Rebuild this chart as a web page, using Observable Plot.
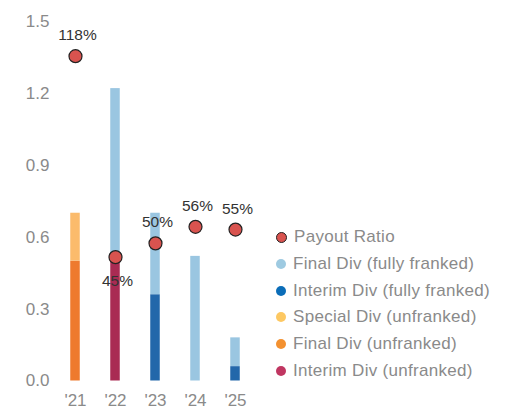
<!DOCTYPE html>
<html>
<head>
<meta charset="utf-8">
<script src="https://cdn.jsdelivr.net/npm/d3@7"></script>
<script src="https://cdn.jsdelivr.net/npm/@observablehq/plot@0.6"></script>
<style>
  body { margin: 0; background: #fff; }
  #wrap { position: relative; width: 513px; height: 410px; font-family: "Liberation Sans", Arial, sans-serif; }
  #legend { position: absolute; left: 276px; top: 224px; }
  .row { display: flex; align-items: center; height: 26.7px; font-size: 17px; color: #8a8a8a; letter-spacing: 0.3px; white-space: nowrap; }
  .sw { width: 10px; height: 10px; border-radius: 50%; margin-right: 7px; box-sizing: border-box; }
</style>
</head>
<body>
<div id="wrap"><div id="legend"></div></div>
<script>
const years = ["'21", "'22", "'23", "'24", "'25"];
const interimUnfranked = [0, 0.50, 0, 0, 0];
const interimFullyFranked = [0, 0, 0.36, 0, 0.06];
const finalUnfranked = [0.50, 0, 0, 0, 0];
const finalFullyFranked = [0, 0.72, 0.34, 0.52, 0.12];
const specialUnfranked = [0.20, 0, 0, 0, 0];
const payoutRatio = [1.18, 0.45, 0.50, 0.56, 0.55];
const payoutAxisMax = 1.306; // hidden secondary axis maximum
const yTicks = [0, 0.3, 0.6, 0.9, 1.2, 1.5];

const seriesNames = [
  "Interim Div (unfranked)",
  "Interim Div (fully franked)",
  "Final Div (unfranked)",
  "Final Div (fully franked)",
  "Special Div (unfranked)"
];
const seriesValues = [interimUnfranked, interimFullyFranked, finalUnfranked, finalFullyFranked, specialUnfranked];
const barColors = ["#a92b53", "#2367aa", "#ee7a2e", "#9ac6e1", "#fbbb6c"];
const legendNames = ["Payout Ratio", "Final Div (fully franked)", "Interim Div (fully franked)", "Special Div (unfranked)", "Final Div (unfranked)", "Interim Div (unfranked)"];
const legendColors = ["#d9534f", "#9ecae1", "#0b6db8", "#fdc862", "#f39130", "#c03661"];

const bars = [];
seriesNames.forEach((s, i) => years.forEach((y, j) => bars.push({year: y, series: s, value: seriesValues[i][j]})));
const payout = years.map((y, j) => ({year: y, ratio: payoutRatio[j]}));
const scaled = d => d.ratio * 1.5 / payoutAxisMax;

const chart = Plot.plot({
  width: 513,
  height: 410,
  marginLeft: 54,
  marginRight: 257,
  marginTop: 21,
  marginBottom: 29.5,
  style: {fontFamily: "'Liberation Sans', Arial, sans-serif", fontSize: "17px", background: "transparent"},
  x: {type: "band", domain: years, padding: 0},
  y: {domain: [0, 1.5]},
  color: {domain: seriesNames, range: barColors},
  marks: [
    Plot.barY(bars, {x: "year", y: "value", fill: "series", insetLeft: 15.25, insetRight: 15.25}),
    Plot.axisY({ticks: yTicks, tickFormat: d3.format(".1f"), tickSize: 0, tickPadding: 5, color: "#8a8a8a", label: null, fontSize: 17}),
    Plot.axisX({tickSize: 0, tickPadding: 13, color: "#8a8a8a", label: null, fontSize: 17}),
    Plot.dot(payout, {x: "year", y: scaled, r: 6.5, fill: "#d9534f", stroke: "#222", strokeWidth: 1.2}),
    Plot.text(payout, {filter: d => d.year !== "'22", x: "year", y: scaled, text: d => Math.round(d.ratio * 100) + "%", dy: -21, dx: 2, fontSize: 15.5, fill: "#333"}),
    Plot.text(payout, {filter: d => d.year === "'22", x: "year", y: scaled, text: d => Math.round(d.ratio * 100) + "%", dy: 24, dx: 2, fontSize: 15.5, fill: "#333"})
  ]
});
document.getElementById("wrap").prepend(chart);

const legend = document.getElementById("legend");
legendNames.forEach((n, i) => {
  const row = document.createElement("div");
  row.className = "row";
  const sw = document.createElement("span");
  sw.className = "sw";
  sw.style.background = legendColors[i];
  if (i === 0) { sw.style.border = "1.2px solid #222"; sw.style.width = "11px"; sw.style.height = "11px"; }
  row.appendChild(sw);
  const t = document.createElement("span");
  t.textContent = n;
  row.appendChild(t);
  legend.appendChild(row);
});
</script>
</body>
</html>
